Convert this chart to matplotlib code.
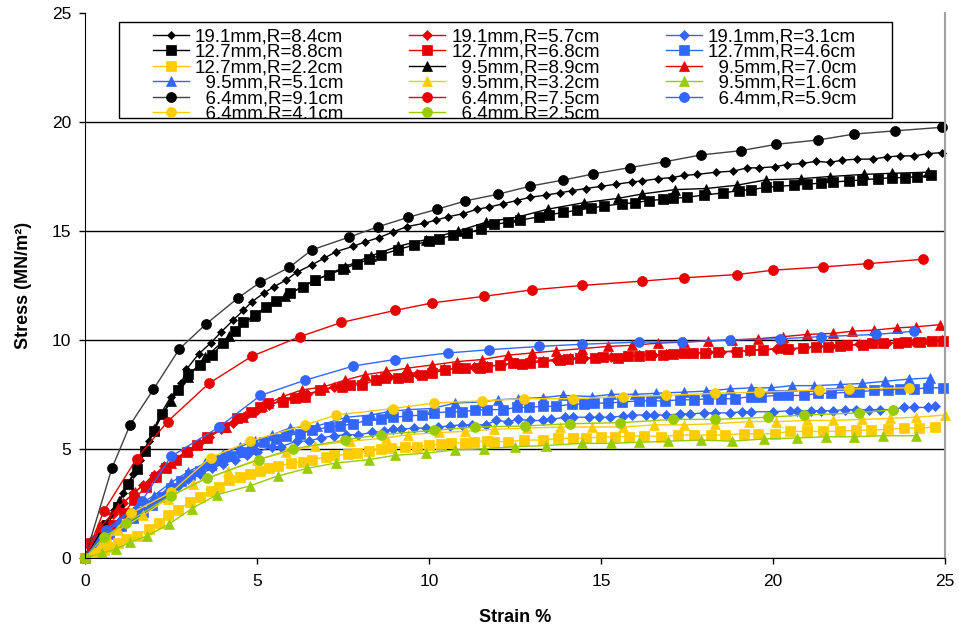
import matplotlib
matplotlib.use("Agg")
import matplotlib.pyplot as plt
from matplotlib.patches import Rectangle
from matplotlib.transforms import Bbox, TransformedBbox
from matplotlib.lines import Line2D
from matplotlib.text import Text

plt.rcParams['font.family'] = ['Liberation Sans', 'DejaVu Sans']

# colours used by the series
BLACK = '#000000'
RED = '#e60000'
BLUE = '#3366ff'
YELLOW = '#ffcc00'
GREEN = '#99cc00'

# ---- data (strain %, stress MN/m2) ----
x_191_84 = [0, 0.3, 0.55, 0.85, 1.1, 1.4, 1.6, 1.85, 2.2, 2.5, 2.8, 2.95, 3.3, 3.65, 3.95, 4.3, 4.6, 4.85,
            5.2, 5.5, 5.85, 6.15, 6.6, 6.95, 7.3, 7.8, 8.15, 8.55, 8.95, 9.35, 9.85, 10.2, 10.55, 11.0,
            11.4, 11.75, 12.15, 12.55, 12.95, 13.4, 13.8, 14.15, 14.55, 15.0, 15.45, 15.9, 16.2, 16.65,
            17.05, 17.4, 17.8, 18.35, 18.85, 19.25, 19.6, 20.05, 20.4, 20.85, 21.25, 21.65, 22.0, 22.45,
            22.9, 23.3, 23.7, 24.1, 24.5, 24.9]
y_191_84 = [0, 0.7, 1.4, 2.2, 2.95, 3.85, 4.5, 5.35, 6.6, 7.4, 8.0, 8.65, 9.35, 9.85, 10.35, 10.9, 11.35, 11.75,
            12.15, 12.45, 12.75, 13.1, 13.45, 13.75, 14.05, 14.3, 14.5, 14.7, 14.95, 15.2, 15.35, 15.5, 15.65,
            15.8, 16.0, 16.1, 16.25, 16.4, 16.55, 16.65, 16.75, 16.85, 16.95, 17.05, 17.15, 17.25, 17.3, 17.4,
            17.45, 17.55, 17.6, 17.7, 17.75, 17.9, 17.9, 17.95, 18.05, 18.1, 18.2, 18.15, 18.25, 18.3,
            18.3, 18.4, 18.45, 18.45, 18.55, 18.6]

x_191_57 = [0, 0.2, 0.5, 0.8, 1.1, 1.4, 1.7, 2.0, 2.3, 2.65, 2.95, 3.3, 3.6, 3.95, 4.3, 4.65, 5.0, 5.35, 5.7,
            6.05, 6.45, 6.85, 7.25, 7.65, 8.05, 8.45, 8.85, 9.25, 9.65, 10.05, 10.45, 10.85, 11.3, 11.7, 12.1,
            12.5, 12.9, 13.3, 13.7, 14.1, 14.5, 14.9, 15.3, 15.7, 16.1, 16.5, 16.9, 17.3, 17.7, 18.1, 18.5,
            18.9, 19.3, 19.7, 20.1, 20.5, 20.9, 21.3, 21.7, 22.1, 22.5, 22.9, 23.3, 23.7, 24.1, 24.5, 24.9]
y_191_57 = [0, 0.8, 1.5, 2.0, 2.5, 2.95, 3.35, 3.8, 4.2, 4.55, 4.9, 5.25, 5.55, 5.9, 6.2, 6.5, 6.8, 7.0, 7.2,
            7.35, 7.5, 7.7, 7.85, 7.95, 8.05, 8.2, 8.3, 8.35, 8.45, 8.55, 8.65, 8.7, 8.75, 8.8, 8.85,
            8.95, 9.0, 9.05, 9.1, 9.15, 9.15, 9.2, 9.2, 9.25, 9.3, 9.3, 9.35, 9.4, 9.4, 9.45, 9.45,
            9.5, 9.5, 9.55, 9.6, 9.6, 9.65, 9.7, 9.7, 9.75, 9.8, 9.85, 9.85, 9.9, 9.9, 9.95, 10.0]

x_191_31 = [0, 0.35, 0.7, 1.0, 1.35, 1.7, 2.0, 2.35, 2.7, 3.0, 3.35, 3.7, 4.0, 4.35, 4.7, 5.0, 5.45, 5.7, 6.15,
            6.5, 6.85, 7.25, 7.6, 7.95, 8.35, 8.7, 8.95, 9.2, 9.55, 9.9, 10.25, 10.6, 10.95, 11.25, 11.65,
            11.95, 12.3, 12.6, 12.95, 13.3, 13.55, 13.95, 14.2, 14.65, 14.95, 15.25, 15.65, 15.9, 16.3, 16.55,
            16.9, 17.3, 17.6, 18.0, 18.3, 18.75, 19.1, 19.35, 20.0, 20.5, 20.7, 21.1, 21.4, 21.75, 22.1, 22.4,
            22.8, 23.1, 23.5, 23.8, 24.1, 24.5, 24.7]
y_191_31 = [0, 0.6, 1.0, 1.4, 1.8, 2.2, 2.55, 2.95, 3.3, 3.6, 3.85, 4.1, 4.3, 4.5, 4.7, 4.85, 5.1, 5.1, 5.35,
            5.35, 5.5, 5.6, 5.65, 5.65, 5.75, 5.8, 5.9, 5.9, 5.95, 5.95, 6.0, 6.05, 6.1, 6.1, 6.1,
            6.3, 6.25, 6.35, 6.3, 6.3, 6.35, 6.45, 6.45, 6.45, 6.45, 6.45, 6.5, 6.55, 6.55, 6.55,
            6.55, 6.6, 6.6, 6.65, 6.65, 6.65, 6.7, 6.7, 6.7, 6.75, 6.75, 6.75, 6.75, 6.75, 6.8, 6.8,
            6.8, 6.8, 6.8, 6.9, 6.9, 6.9, 6.95]

x_127_88 = [0, 0.35, 0.65, 0.95, 1.25, 1.5, 1.75, 2.0, 2.25, 2.7, 3.0, 3.35, 3.7, 4.0, 4.35, 4.6, 4.95, 5.25,
            5.55, 5.95, 6.35, 6.7, 7.1, 7.5, 7.9, 8.25, 8.6, 9.1, 9.55, 10.0, 10.3, 10.7, 11.1, 11.5, 11.9,
            12.3, 12.65, 13.2, 13.5, 13.9, 14.3, 14.7, 15.1, 15.6, 16.0, 16.4, 16.8, 17.1, 17.5, 18.0, 18.55,
            19.0, 19.35, 19.8, 20.15, 20.6, 21.0, 21.4, 21.75, 22.2, 22.6, 23.05, 23.45, 23.85, 24.2, 24.6]
y_127_88 = [0, 0.65, 1.5, 2.35, 3.4, 4.05, 4.9, 5.8, 6.6, 7.7, 8.45, 8.85, 9.3, 9.85, 10.4, 10.8, 11.15, 11.5,
            11.8, 12.15, 12.45, 12.75, 13.0, 13.25, 13.5, 13.7, 13.9, 14.15, 14.35, 14.55, 14.65, 14.8, 14.9,
            15.1, 15.3, 15.4, 15.5, 15.65, 15.75, 15.85, 15.95, 16.05, 16.15, 16.25, 16.3, 16.4, 16.45, 16.5,
            16.55, 16.65, 16.75, 16.85, 16.9, 17.0, 17.05, 17.1, 17.15, 17.2, 17.25, 17.3, 17.35, 17.4, 17.45,
            17.45, 17.5, 17.55]

x_127_68 = [0, 0.17, 0.5, 0.8, 1.13, 1.42, 1.76, 2.05, 2.35, 2.64, 2.97, 3.26, 3.56, 4.04, 4.43, 4.82, 5.1,
            5.33, 5.77, 6.1, 6.4, 6.84, 7.46, 7.7, 8.04, 8.47, 8.72, 9.11, 9.4, 9.79, 10.08, 10.47, 10.8,
            11.05, 11.48, 11.68, 12.06, 12.45, 12.69, 12.94, 13.32, 13.81, 14.05, 14.39, 14.83, 15.07, 15.5,
            15.79, 16.11, 16.42, 16.81, 17.1, 17.41, 17.68, 18.02, 18.41, 18.94, 19.33, 19.72, 20.25, 20.45,
            20.88, 21.25, 21.61, 21.95, 22.16, 22.63, 22.87, 23.2, 23.64, 23.88, 24.27, 24.61, 24.95]
y_127_68 = [0, 0.66, 1.1, 1.5, 2.04, 2.65, 3.26, 3.72, 4.1, 4.49, 4.87, 5.17, 5.56, 6.01, 6.4, 6.7, 6.93,
            7.09, 7.16, 7.32, 7.39, 7.7, 7.85, 7.93, 7.93, 8.16, 8.24, 8.24, 8.31, 8.39, 8.47, 8.62, 8.7,
            8.7, 8.7, 8.77, 8.85, 8.93, 8.89, 8.95, 9.0, 9.08, 9.11, 9.15, 9.15, 9.2, 9.15,
            9.26, 9.26, 9.31, 9.31, 9.35, 9.41, 9.41, 9.41, 9.46, 9.46, 9.54, 9.54, 9.61, 9.58,
            9.61, 9.69, 9.69, 9.72, 9.77, 9.77, 9.84, 9.84, 9.87, 9.92, 9.92, 9.96, 9.96]

x_127_46 = [0, 0.35, 0.7, 1.05, 1.4, 1.7, 1.95, 2.25, 2.5, 2.8, 3.05, 3.35, 3.65, 3.95, 4.25, 4.55, 4.85, 5.2,
            5.55, 5.85, 6.25, 6.6, 7.1, 7.4, 7.8, 8.2, 8.6, 8.95, 9.35, 9.8, 10.15, 10.6, 10.95, 11.35, 11.7,
            12.15, 12.55, 12.9, 13.3, 13.7, 14.15, 14.5, 14.8, 15.2, 15.6, 16.1, 16.45, 16.85, 17.3, 17.7,
            18.1, 18.5, 18.9, 19.35, 19.65, 20.15, 20.45, 20.9, 21.3, 21.7, 22.2, 22.5, 22.95, 23.35, 23.7,
            24.1, 24.5, 24.95]
y_127_46 = [0, 0.75, 1.1, 1.45, 1.8, 2.1, 2.4, 2.8, 3.2, 3.5, 3.8, 4.0, 4.25, 4.5, 4.65, 4.85, 5.0, 5.3,
            5.45, 5.6, 5.7, 5.85, 6.0, 6.05, 6.15, 6.3, 6.35, 6.45, 6.5, 6.55, 6.65, 6.7, 6.7, 6.78, 6.8,
            6.8, 6.9, 6.9, 6.95, 6.95, 7.05, 7.05, 7.1, 7.1, 7.15, 7.2, 7.2, 7.2, 7.25, 7.25,
            7.3, 7.3, 7.3, 7.4, 7.4, 7.45, 7.45, 7.45, 7.55, 7.55, 7.6, 7.6, 7.7, 7.7, 7.75,
            7.75, 7.8, 7.8]

x_127_22 = [0, 0.25, 0.55, 0.7, 0.95, 1.2, 1.5, 1.85, 2.15, 2.4, 2.7, 3.05, 3.35, 3.65, 3.9, 4.2, 4.5, 4.8,
            5.1, 5.35, 5.6, 6.0, 6.35, 6.6, 7.0, 7.25, 7.65, 7.9, 8.25, 8.6, 8.9, 9.3, 9.65, 10.0, 10.35,
            10.65, 11.05, 11.3, 11.7, 11.9, 12.3, 12.75, 13.3, 13.75, 14.2, 14.55, 15.0, 15.4, 15.8, 16.25,
            16.75, 17.25, 17.7, 18.2, 18.6, 19.15, 19.55, 20.05, 20.5, 21.0, 21.45, 21.95, 22.4, 22.85,
            23.35, 23.8, 24.25, 24.7]
y_127_22 = [0, 0.2, 0.35, 0.5, 0.66, 0.85, 1.0, 1.3, 1.6, 1.95, 2.2, 2.55, 2.8, 3.05, 3.25, 3.55, 3.7, 3.85,
            4.0, 4.1, 4.2, 4.35, 4.4, 4.5, 4.63, 4.7, 4.75, 4.8, 4.9, 5.0, 5.05, 5.1, 5.1, 5.17, 5.2,
            5.27, 5.27, 5.33, 5.35, 5.33, 5.33, 5.4, 5.4, 5.48, 5.48, 5.48, 5.55, 5.55, 5.56, 5.6,
            5.56, 5.63, 5.63, 5.63, 5.63, 5.7, 5.68, 5.7, 5.8, 5.8, 5.8, 5.8, 5.85, 5.85,
            5.9, 5.95, 5.95, 6.0]

x_95_89 = [0, 0.5, 1.0, 1.5, 2.0, 2.5, 3.0, 3.5, 4.2, 4.9, 5.8, 6.7, 7.55, 8.3, 9.1, 9.9, 10.85, 11.65, 12.6,
           13.45, 14.5, 15.5, 16.2, 17.15, 18.05, 18.95, 19.8, 20.8, 21.65, 22.65, 23.45, 24.5]
y_95_89 = [0, 1.3, 2.6, 4.1, 5.9, 7.2, 8.3, 9.2, 10.2, 11.1, 12.0, 12.75, 13.35, 13.85, 14.3, 14.6, 15.0, 15.4,
           15.65, 16.0, 16.3, 16.5, 16.7, 16.9, 16.95, 17.1, 17.35, 17.4, 17.5, 17.6, 17.65, 17.7]

x_95_70 = [0, 0.45, 0.95, 1.45, 1.95, 2.5, 3.0, 3.55, 4.1, 4.6, 5.15, 5.75, 6.3, 6.95, 7.55, 8.15, 8.75, 9.35,
           10.1, 10.8, 11.55, 12.3, 13.0, 13.7, 14.45, 15.2, 15.9, 16.65, 17.4, 18.1, 18.8, 19.55, 20.3, 21.0,
           21.75, 22.3, 22.95, 23.6, 24.15, 24.85]
y_95_70 = [0, 1.4, 2.3, 3.0, 3.7, 4.35, 4.95, 5.5, 6.0, 6.45, 6.95, 7.4, 7.7, 7.85, 8.15, 8.4, 8.55, 8.7,
           8.85, 9.0, 9.1, 9.3, 9.4, 9.5, 9.6, 9.7, 9.75, 9.85, 9.9, 9.95, 10.0, 10.05, 10.15, 10.25,
           10.3, 10.4, 10.45, 10.55, 10.6, 10.7]

x_95_51 = [0, 0.5, 1.0, 1.5, 2.0, 2.5, 3.0, 3.5, 4.0, 4.5, 4.95, 5.45, 5.95, 6.75, 7.6, 8.3, 8.8, 9.4, 10.1,
           10.75, 11.5, 12.0, 12.6, 13.3, 13.9, 14.75, 15.3, 16.0, 16.6, 17.4, 18.05, 18.75, 19.35, 19.95,
           20.55, 21.2, 21.95, 22.6, 23.25, 23.95, 24.55]
y_95_51 = [0, 0.95, 1.7, 2.35, 2.85, 3.45, 3.95, 4.35, 4.75, 5.1, 5.35, 5.65, 5.95, 6.05, 6.45, 6.55, 6.7, 6.8,
           6.85, 7.1, 7.15, 7.25, 7.3, 7.35, 7.45, 7.4, 7.5, 7.5, 7.55, 7.6, 7.65, 7.75, 7.8, 7.8,
           7.9, 7.9, 7.95, 8.0, 8.1, 8.2, 8.25]

x_95_32 = [0, 0.45, 0.95, 1.7, 2.4, 3.15, 4.15, 5.0, 5.85, 6.7, 7.7, 8.75, 9.4, 10.3, 11.05, 11.9, 12.85, 13.8,
           14.75, 15.65, 16.55, 17.4, 18.3, 19.3, 20.1, 21.0, 21.75, 22.6, 23.4, 24.15, 25.0]
y_95_32 = [0, 0.55, 1.25, 1.95, 2.7, 3.4, 4.0, 4.5, 4.85, 5.15, 5.35, 5.5, 5.65, 5.75, 5.8, 5.9, 5.95, 6.0,
           6.0, 6.0, 6.1, 6.1, 6.15, 6.25, 6.25, 6.3, 6.3, 6.35, 6.4, 6.45, 6.55]

x_95_16 = [0, 0.48, 0.9, 1.3, 1.8, 2.45, 3.1, 3.85, 4.8, 5.6, 6.45, 7.3, 8.25, 9.0, 9.9, 10.75, 11.6, 12.5,
           13.4, 14.45, 15.3, 16.1, 16.95, 17.9, 18.8, 19.75, 20.7, 21.55, 22.35, 23.2, 24.15]
y_95_16 = [0, 0.2, 0.4, 0.7, 1.0, 1.55, 2.25, 2.9, 3.3, 3.75, 4.1, 4.35, 4.5, 4.7, 4.8, 4.95, 5.0, 5.1,
           5.15, 5.25, 5.25, 5.3, 5.35, 5.4, 5.35, 5.45, 5.5, 5.55, 5.55, 5.6, 5.6]

x_64_91 = [0, 0.78, 1.31, 1.99, 2.74, 3.52, 4.46, 5.09, 5.94, 6.59, 7.66, 8.53, 9.4, 10.24, 11.05, 12.01,
           12.94, 13.9, 14.78, 15.83, 16.86, 17.9, 19.07, 20.09, 21.32, 22.35, 23.56, 24.9]
y_64_91 = [0, 4.1, 6.1, 7.73, 9.58, 10.73, 11.94, 12.64, 13.33, 14.13, 14.71, 15.2, 15.63, 16.0, 16.38, 16.69,
           17.06, 17.34, 17.62, 17.91, 18.18, 18.49, 18.69, 18.98, 19.18, 19.45, 19.6, 19.76]

x_64_75 = [0, 0.55, 1.5, 2.4, 3.6, 4.85, 6.25, 7.45, 9.0, 10.1, 11.6, 13.0, 14.45, 16.2, 17.4, 18.95, 20.0,
           21.45, 22.75, 24.35]
y_64_75 = [0, 2.15, 4.55, 6.25, 8.0, 9.25, 10.15, 10.8, 11.35, 11.7, 12.0, 12.3, 12.5, 12.7, 12.85, 13.0, 13.2,
           13.35, 13.5, 13.7]

x_64_59 = [0, 0.6, 1.65, 2.5, 3.9, 5.1, 6.4, 7.8, 9.0, 10.55, 11.75, 13.2, 14.45, 16.1, 17.35, 18.75, 20.2,
           21.4, 23.0, 24.1]
y_64_59 = [0, 1.25, 2.6, 4.65, 6.0, 7.45, 8.15, 8.8, 9.1, 9.4, 9.55, 9.7, 9.8, 9.9, 9.9, 10.0, 10.05,
           10.15, 10.25, 10.4]

x_64_41 = [0, 0.6, 1.35, 2.5, 3.65, 4.8, 6.4, 7.3, 8.95, 10.15, 11.55, 12.75, 14.2, 15.65, 16.9, 18.3, 19.6,
           21.35, 22.2, 23.95]
y_64_41 = [0, 0.8, 2.05, 3.0, 4.6, 5.35, 6.1, 6.55, 6.85, 7.1, 7.2, 7.3, 7.3, 7.4, 7.45, 7.55, 7.6,
           7.7, 7.75, 7.8]

x_64_25 = [0, 0.55, 1.2, 2.5, 3.55, 5.05, 6.05, 7.55, 8.6, 10.15, 11.35, 12.8, 14.1, 15.55, 17.1, 18.3, 19.85,
           20.9, 22.5, 23.5]
y_64_25 = [0, 0.95, 1.6, 2.85, 3.65, 4.5, 5.0, 5.4, 5.65, 5.85, 6.0, 6.05, 6.15, 6.2, 6.35, 6.35, 6.45,
           6.55, 6.65, 6.8]

labels = ['19.1mm,R=8.4cm', '19.1mm,R=5.7cm', '19.1mm,R=3.1cm',
          '12.7mm,R=8.8cm', '12.7mm,R=6.8cm', '12.7mm,R=4.6cm',
          '12.7mm,R=2.2cm', '  9.5mm,R=8.9cm', '  9.5mm,R=7.0cm',
          '  9.5mm,R=5.1cm', '  9.5mm,R=3.2cm', '  9.5mm,R=1.6cm',
          '  6.4mm,R=9.1cm', '  6.4mm,R=7.5cm', '  6.4mm,R=5.9cm',
          '  6.4mm,R=4.1cm', '  6.4mm,R=2.5cm']

series = [
    (x_191_84, y_191_84, BLACK, BLACK, 'D', 3.7),
    (x_191_57, y_191_57, RED, RED, 'D', 5.6),
    (x_191_31, y_191_31, BLUE, BLUE, 'D', 5.6),
    (x_127_88, y_127_88, BLACK, BLACK, 's', 6.8),
    (x_127_68, y_127_68, RED, RED, 's', 6.8),
    (x_127_46, y_127_46, BLUE, BLUE, 's', 6.8),
    (x_127_22, y_127_22, YELLOW, YELLOW, 's', 6.8),
    (x_95_89, y_95_89, BLACK, BLACK, '^', 7.8),
    (x_95_70, y_95_70, RED, RED, '^', 7.8),
    (x_95_51, y_95_51, BLUE, BLUE, '^', 7.8),
    (x_95_32, y_95_32, YELLOW, YELLOW, '^', 7.8),
    (x_95_16, y_95_16, GREEN, GREEN, '^', 7.8),
    (x_64_91, y_64_91, '#404040', BLACK, 'o', 7.2),
    (x_64_75, y_64_75, RED, RED, 'o', 7.2),
    (x_64_59, y_64_59, BLUE, BLUE, 'o', 7.2),
    (x_64_41, y_64_41, YELLOW, YELLOW, 'o', 7.2),
    (x_64_25, y_64_25, GREEN, GREEN, 'o', 7.2),
]

W, H = 959, 634
fig = plt.figure(figsize=(W / 100, H / 100), dpi=100)
ax = fig.add_axes([85 / W, (H - 557.7) / H, 860 / W, 544.5 / H])

handles = []
for (xs, ys, lc, mc, mk, ms), lab in zip(series, labels):
    ln, = ax.plot(xs, ys, color=lc, lw=1.0, marker=mk, ms=ms, mfc=mc, mec=mc,
                  mew=0.5, label=lab, clip_on=False)
    handles.append(ln)

ax.set_xlim(0, 25)
ax.set_ylim(0, 25)
ax.set_xticks(range(0, 26, 5))
ax.set_yticks(range(0, 26, 5))
ax.tick_params(axis='x', direction='out', length=4, width=1, pad=8, labelsize=12.5)
ax.tick_params(axis='y', direction='out', length=4, width=1, pad=6, labelsize=12.5)
ax.grid(axis='y', color='black', lw=1)
ax.yaxis.get_gridlines()[-1].set_visible(False)
ax.set_axisbelow(True)
ax.spines['top'].set_visible(False)
ax.spines['right'].set_color('#a0a0a0')
ax.spines['right'].set_linewidth(1.5)

ax.set_xlabel('Strain %', fontsize=13, fontweight='bold')
ax.set_ylabel('Stress (MN/m²)', fontsize=13, fontweight='bold')
ax.xaxis.set_label_coords(0.5, -0.094)
ax.yaxis.set_label_coords(-0.062, 0.5)
ax.xaxis.label.set_va('top')

# legend: Excel order is row by row, matplotlib fills columns
order = [0, 3, 6, 9, 12, 15, 1, 4, 7, 10, 13, 16, 2, 5, 8, 11, 14]
box_l, box_r, box_t, box_b = 119, 892, 22, 118
frame = Rectangle((box_l / W, 1 - box_b / H), (box_r - box_l) / W, (box_b - box_t) / H,
                  transform=fig.transFigure, facecolor='white', edgecolor='black', lw=1, zorder=4)
fig.add_artist(frame)
leg = fig.legend([handles[i] for i in order], [labels[i] for i in order],
                 loc='upper left', bbox_to_anchor=(153 / W, 1 - 28 / H), ncol=3,
                 frameon=False, fontsize=13.5, handlelength=1.92, handletextpad=0.32,
                 columnspacing=3.5, labelspacing=-0.085, borderpad=0, borderaxespad=0)
leg.set_zorder(5)
clip = TransformedBbox(Bbox.from_extents(0, 1 - box_b / H, 1, 1), fig.transFigure)
for art in leg.findobj(lambda a: isinstance(a, (Line2D, Text))):
    art.set_clip_box(clip)
    art.set_clip_on(True)

fig.savefig('out.png', dpi=100)
